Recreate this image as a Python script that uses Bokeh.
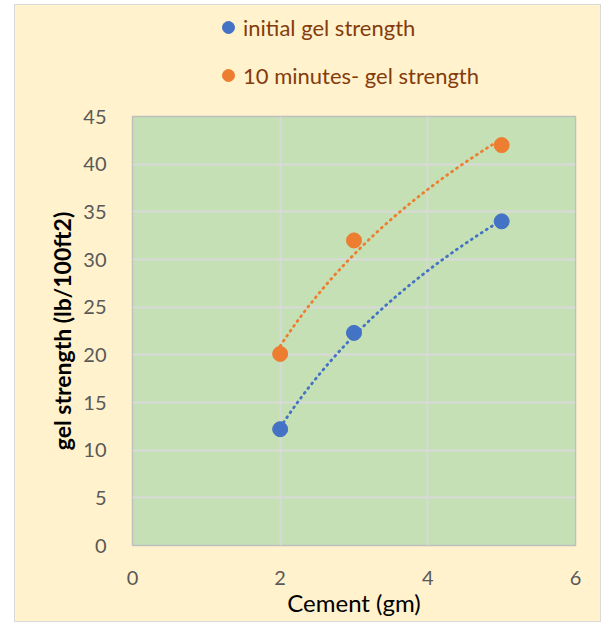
import numpy as np
from bokeh.plotting import figure
from bokeh.layouts import column
from bokeh.models import Legend, LegendItem, Range1d, FixedTicker
from bokeh.embed import file_html
from bokeh.resources import INLINE

cement = [2, 3, 5]
initial_gel = [12.2, 22.3, 34.0]
ten_min_gel = [20.1, 32.0, 42.0]
x_ticks = [0, 2, 4, 6]
y_ticks = [0, 5, 10, 15, 20, 25, 30, 35, 40, 45]
series_names = ["initial gel strength", "10 minutes- gel strength"]

BLUE = "#4472C4"
ORANGE = "#ED7D31"
CREAM = "#FFF2CC"
FONT = "Lato"

# ---- legend strip on top (its proxy points fall outside its range, only the legend shows) ----
top = figure(width=585, height=96, output_backend="svg", toolbar_location=None,
             x_range=Range1d(100, 101), y_range=Range1d(100, 101),
             x_axis_location=None, y_axis_location=None,
             min_border=0)
top.background_fill_color = CREAM
top.border_fill_color = CREAM
top.outline_line_color = None
top.grid.visible = False
lr1 = top.scatter(cement, initial_gel, size=15, fill_color=BLUE, line_color=BLUE)
lr2 = top.scatter(cement, ten_min_gel, size=15, fill_color=ORANGE, line_color=ORANGE)
legend = Legend(items=[LegendItem(label=series_names[0], renderers=[lr1]),
                       LegendItem(label=series_names[1], renderers=[lr2])],
                location=(81, 11), orientation="vertical")
legend.background_fill_alpha = 0
legend.border_line_alpha = 0
legend.padding = 0
legend.margin = 0
legend.glyph_width = 30
legend.glyph_height = 30
legend.spacing = 18
legend.label_standoff = 0
legend.label_text_font = FONT
legend.label_text_font_size = "22px"
legend.label_text_color = "#843C0C"
legend.label_height = 22
top.add_layout(legend, "center")

# ---- main chart ----
p = figure(width=585, height=520, output_backend="svg", toolbar_location=None,
           x_range=Range1d(0, 6), y_range=Range1d(0, 45),
           min_border_left=117, min_border_right=25, min_border_top=15, min_border_bottom=76)
p.background_fill_color = "#C5E0B4"
p.border_fill_color = CREAM
p.outline_line_color = "#BFBFBF"
p.outline_line_width = 1.5

p.xgrid.ticker = FixedTicker(ticks=x_ticks)
p.ygrid.ticker = FixedTicker(ticks=y_ticks)
p.grid.grid_line_color = "#D9D9D9"
p.grid.grid_line_width = 1.8

for ax in (p.xaxis[0], p.yaxis[0]):
    ax.axis_line_color = None
    ax.major_tick_line_color = None
    ax.minor_tick_line_color = None
    ax.major_label_text_font = FONT
    ax.major_label_text_font_size = "20px"
    ax.major_label_text_color = "#595959"
    ax.axis_label_text_font = FONT
    ax.axis_label_text_font_size = "24px"
    ax.axis_label_text_color = "#000000"
    ax.axis_label_text_font_style = "normal"
p.xaxis.ticker = FixedTicker(ticks=x_ticks)
p.yaxis.ticker = FixedTicker(ticks=y_ticks)
p.xaxis.major_label_standoff = 19
p.yaxis.major_label_standoff = 20
p.xaxis.axis_label = "Cement (gm)"
p.yaxis.axis_label = "gel strength (lb/100ft2)"
p.xaxis.axis_label_standoff = 0
p.yaxis.axis_label_standoff = 4
p.yaxis.axis_label_text_font_style = "bold"
p.yaxis.axis_label_text_font_size = "23px"

# logarithmic trendlines fitted to the data (as in the spreadsheet chart)
xs = np.linspace(min(cement), max(cement), 80)
for ys_data, col in ((initial_gel, BLUE), (ten_min_gel, ORANGE)):
    a, b = np.polyfit(np.log(cement), ys_data, 1)
    p.line(xs, a * np.log(xs) + b, line_color=col, line_width=2.8,
           line_dash="1 5", line_cap="round")

p.scatter(cement, initial_gel, size=15, fill_color=BLUE, line_color=BLUE)
p.scatter(cement, ten_min_gel, size=15, fill_color=ORANGE, line_color=ORANGE)

layout = column(top, p, spacing=0)
layout.styles = {"border": "1px solid #D9D9D9", "background-color": CREAM,
                 "margin-left": "14px", "margin-top": "4px"}

open("out.html", "w").write(file_html(layout, INLINE))
